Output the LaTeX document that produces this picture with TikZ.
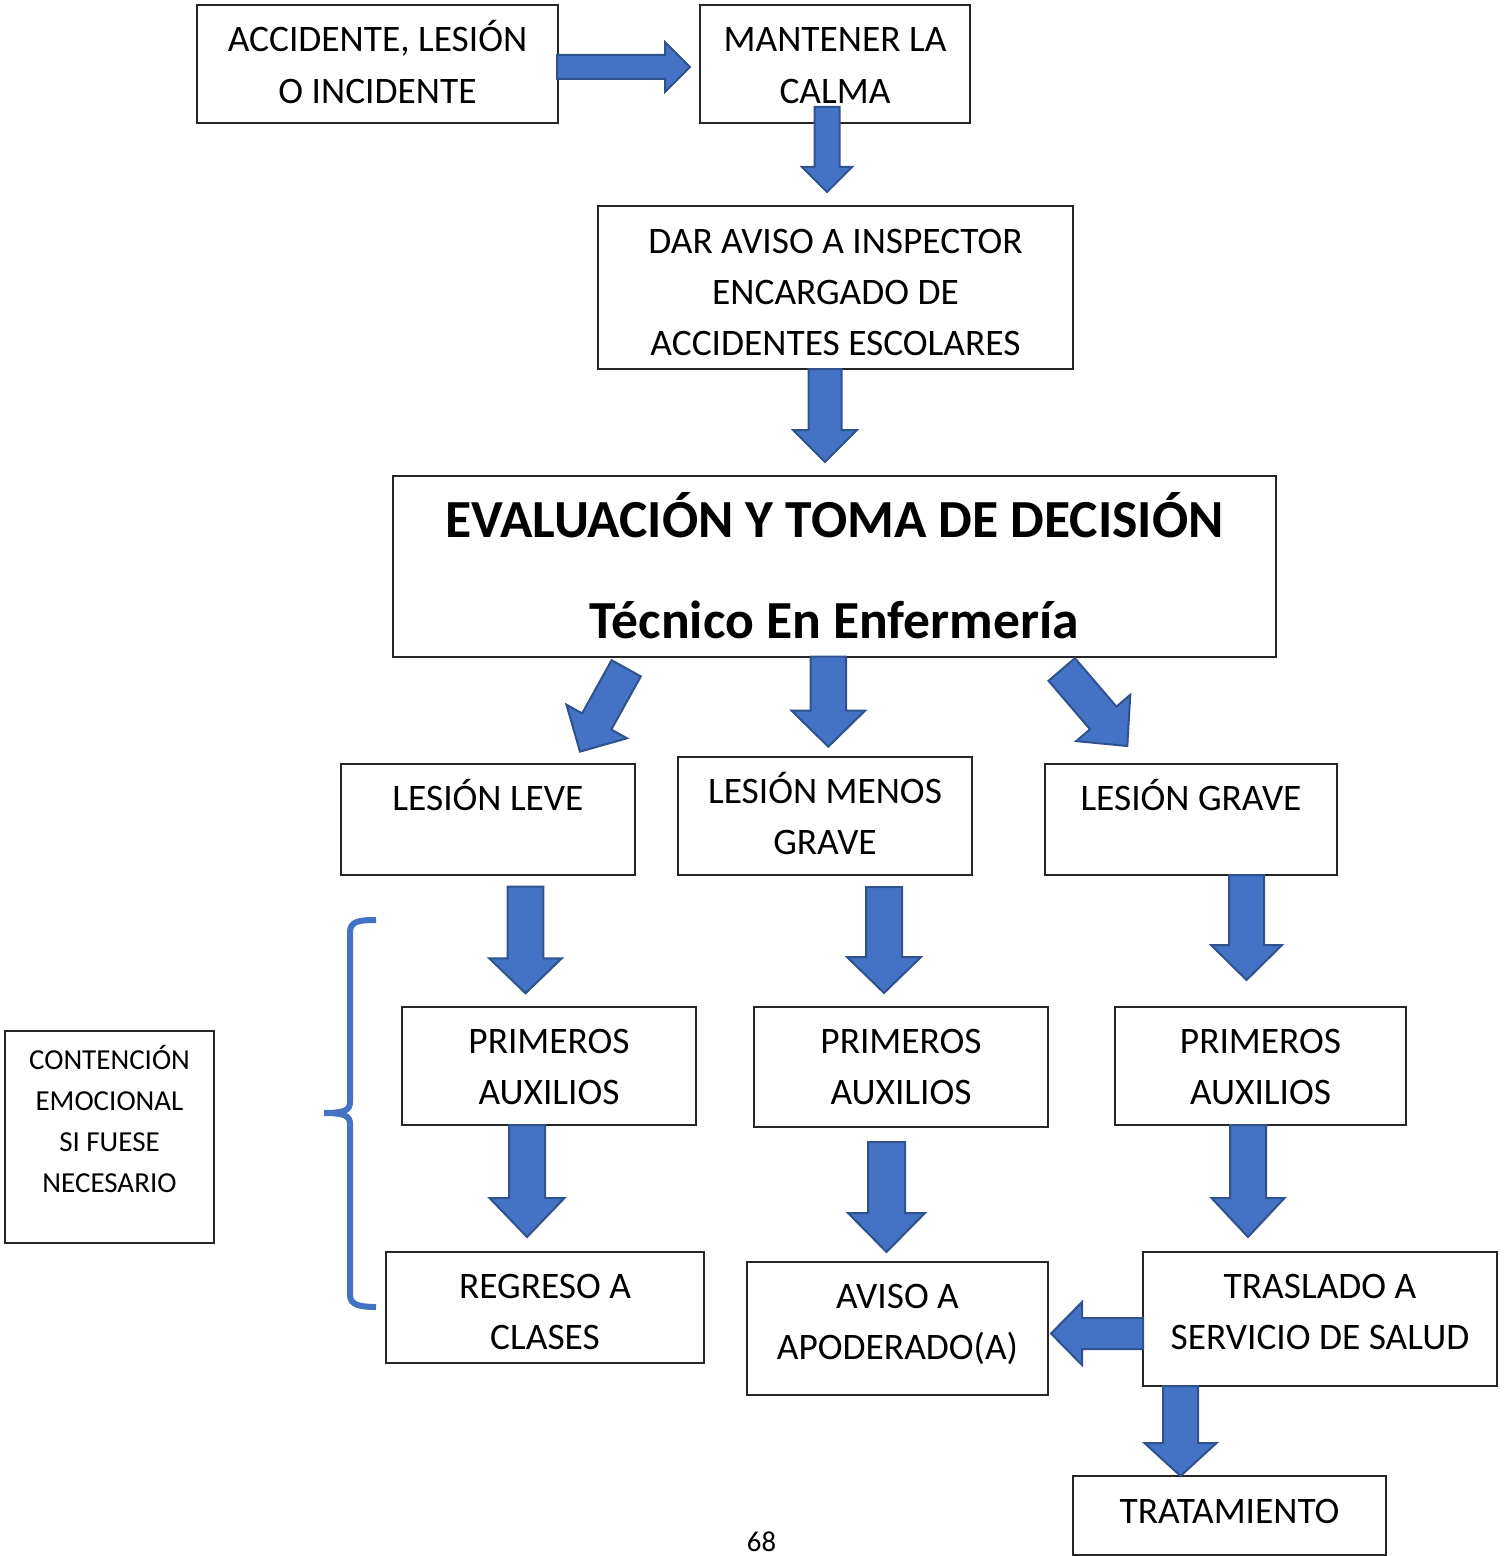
\documentclass[tikz,border=0pt]{standalone}
\usepackage{fontspec}
\setmainfont{Carlito}
\definecolor{ablue}{HTML}{4472C4}
\definecolor{aedge}{HTML}{2F528F}
\tikzset{
  box/.style={draw=black!85, line width=0.75pt, inner sep=0pt, outer sep=0pt,
              font=\fontsize{18.7}{25.75}\selectfont},
  blk/.style={fill=ablue, draw=aedge, line width=1pt, line join=miter},
  bracestyle/.style={draw=ablue, line width=3pt, line cap=butt},
  pagenum/.style={font=\fontsize{14.4}{17}\selectfont, inner sep=0pt, anchor=base}
}
% box: name, x1, y1, x2, y2, first-baseline offset (px), content
\newcommand\bx[7]{\node[box, anchor=north west] (#1) at (#2,#3)
  {\parbox[c][\dimexpr(#5pt-#3pt)/2\relax][t]{\dimexpr(#4pt-#2pt)/2\relax}{\centering\rule{0pt}{\dimexpr#6pt/2\relax}#7}};}
% block arrow: start x, start y, angle, length, shaft half, head half, head length
\newcommand\blockarr[7]{\begin{scope}[shift={(#1,#2)},rotate=#3]
  \path[blk] (0,-#5) -- ({#4-#7},-#5) -- ({#4-#7},-#6) -- (#4,0) -- ({#4-#7},#6) -- ({#4-#7},#5) -- (0,#5) -- cycle;
\end{scope}}
\begin{document}
\begin{tikzpicture}[x=0.5pt,y=-0.5pt]
\useasboundingbox (0,0) rectangle (1503,1556);
% boxes
\bx{acc}{197}{5}{558}{123}{47}{ACCIDENTE, LESIÓN\\O INCIDENTE}
\bx{calma}{700}{5}{970}{123}{47}{MANTENER LA\\CALMA}
\bx{aviso}{598}{206}{1073}{369}{47}{DAR AVISO A INSPECTOR\\ENCARGADO DE\\ACCIDENTES ESCOLARES}
\bx{eval}{393}{476}{1276}{657}{61}{\fontsize{26.8}{50.5}\selectfont\bfseries EVALUACIÓN Y TOMA DE DECISIÓN\\Técnico En Enfermería}
\bx{leve}{341}{764}{635}{875}{46}{LESIÓN LEVE}
\bx{menos}{678}{757}{972}{875}{46}{LESIÓN MENOS\\GRAVE}
\bx{grave}{1045}{764}{1337}{875}{46}{LESIÓN GRAVE}
\bx{pa1}{402}{1007}{696}{1125}{46}{PRIMEROS\\AUXILIOS}
\bx{pa2}{754}{1007}{1048}{1127}{46}{PRIMEROS\\AUXILIOS}
\bx{pa3}{1115}{1007}{1406}{1125}{46}{PRIMEROS\\AUXILIOS}
\bx{regreso}{386}{1252}{704}{1363}{46}{REGRESO A\\CLASES}
\bx{apod}{747}{1262}{1048}{1395}{46}{AVISO A\\APODERADO(A)}
\bx{trasl}{1143}{1252}{1497}{1386}{46}{TRASLADO A\\SERVICIO DE SALUD}
\bx{trat}{1073}{1476}{1386}{1555}{47}{TRATAMIENTO}
\bx{cont}{5}{1031}{214}{1243}{38}{\fontsize{14.5}{20.5}\selectfont CONTENCIÓN\\EMOCIONAL\\SI FUESE\\NECESARIO}
% block arrows
\blockarr{557}{67}{0}{133}{12}{25}{25}
\blockarr{827}{107}{-90}{85}{12.5}{25}{25}
\blockarr{825}{369}{-90}{93}{16.5}{32}{32}
\blockarr{828.3}{656.7}{-90}{90}{17.7}{36.7}{36}
\blockarr{626.2}{668.3}{-119}{95.3}{16.7}{34.6}{34.5}
\blockarr{1061.7}{669.5}{-49.4}{100.8}{17.4}{35.6}{37}
\blockarr{525.5}{886.7}{-90}{106.6}{17.8}{36.3}{35}
\blockarr{884}{887}{-90}{106}{18}{37}{36}
\blockarr{1246.5}{875}{-90}{105}{17.5}{35.5}{35}
\blockarr{527}{1125}{-90}{112}{18}{37.5}{39}
\blockarr{886.5}{1142}{-90}{110}{18.5}{38.5}{39}
\blockarr{1248}{1125}{-90}{112}{18}{36.5}{39}
\blockarr{1143}{1333.5}{180}{92}{15.5}{31.5}{31}
\blockarr{1180.5}{1386}{-90}{90}{17.5}{36}{33}
% brace
\draw[bracestyle] (376,920) .. controls (360,920) and (350,921) .. (350,932)
  -- (350,1102) .. controls (350,1110) and (345,1113) .. (324,1113)
  .. controls (345,1113) and (350,1116) .. (350,1124)
  -- (350,1295) .. controls (350,1305) and (360,1307) .. (376,1307);
% page number
\node[pagenum] (pg) at (761.5,1551) {68};
\end{tikzpicture}
\end{document}
